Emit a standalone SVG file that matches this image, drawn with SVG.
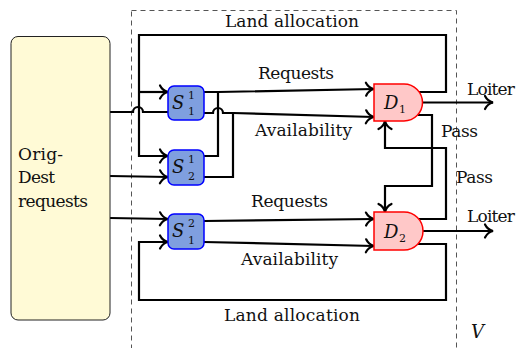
<svg xmlns="http://www.w3.org/2000/svg" width="525" height="348" viewBox="0 0 525 348">
<style>
text{font-family:'DejaVu Serif','Liberation Serif',Times,serif;fill:#111;}
.lbl{font-size:17px;}
.math{font-size:18px;font-style:italic;}
.idx{font-size:11px;}
.wire{fill:none;stroke:#000;stroke-width:2.2;stroke-linejoin:miter;}
.arr{marker-end:url(#arr);}
.sbox{fill:#7f9fdf;stroke:#0000ff;stroke-width:1.5;}
.gate{fill:#ffc8c8;stroke:#ff0000;stroke-width:1.5;}
</style>
<defs>
<marker id="arr" markerUnits="userSpaceOnUse" markerWidth="16" markerHeight="18" viewBox="-12 -9 14 18" refX="0" refY="0" orient="auto" overflow="visible">
<path d="M-8,-6.5 C-6,-2.5 -3,-0.7 0,0 C-3,0.7 -6,2.5 -8,6.5" fill="none" stroke="#000" stroke-width="2.2" stroke-linecap="round"/>
</marker>
</defs>
<rect x="0" y="0" width="525" height="348" fill="#fff"/>
<rect id="V-region" x="131.5" y="10.5" width="325" height="380" fill="none" stroke="#555" stroke-width="1" stroke-dasharray="5,4"/>
<text class="math" x="471" y="338">V</text>

<g id="connectors">
<path class="wire" d="M110,112 H133 A5,5 0 0 1 143,112 H168"/>
<path class="wire arr" d="M110,176 L168,177"/>
<path class="wire arr" d="M110,218 L168,219"/>
<path class="wire arr" d="M419,92 H446 V35 H139 V156 H168"/>
<path class="wire arr" d="M139,92 H168"/>
<path class="wire arr" d="M204,92 H218 L374,89"/>
<path class="wire" d="M204,156 H218 V92"/>
<path class="wire arr" d="M204,113 H213 A5,5 0 0 1 223,113 H233 L374,117"/>
<path class="wire" d="M204,177 H233 V113"/>
<path class="wire arr" d="M204,221 L374,219"/>
<path class="wire arr" d="M204,242 L374,246"/>
<path class="wire arr" d="M418,244 H446 V300 H139 V242 H168"/>
<path class="wire arr" d="M418,115 H432 V186 H385 V212"/>
<path class="wire arr" d="M418.7,219 H446 V148 H385 V121"/>
<path class="wire arr" d="M423,102.5 H493"/>
<path class="wire arr" d="M423,231 H493"/>
</g>

<g id="orig-dest">
<rect x="11" y="36.5" width="99" height="283.5" rx="7" fill="#fffad6" stroke="#222" stroke-width="1"/>
<text class="lbl" x="18" y="160" textLength="45">Orig-</text>
<text class="lbl" x="18" y="183" textLength="37">Dest</text>
<text class="lbl" x="18" y="207" textLength="70">requests</text>
</g>

<g id="S11">
<rect class="sbox" x="168" y="86" width="36" height="34" rx="6"/>
<text class="math" x="172" y="109">S</text>
<text class="idx" x="188" y="99">1</text>
<text class="idx" x="188" y="115">1</text>
</g>
<g id="S21">
<rect class="sbox" x="168" y="150" width="36" height="35" rx="6"/>
<text class="math" x="172" y="173">S</text>
<text class="idx" x="188" y="163">1</text>
<text class="idx" x="188" y="180">2</text>
</g>
<g id="S12">
<rect class="sbox" x="168" y="214" width="36" height="35" rx="6"/>
<text class="math" x="172" y="237">S</text>
<text class="idx" x="188" y="227">2</text>
<text class="idx" x="188" y="244">1</text>
</g>

<g id="D1">
<path class="gate" d="M374,84 H404 A18.5,18.5 0 0 1 404,121 H374 Z"/>
<text class="math" x="384" y="109">D</text>
<text class="idx" x="399" y="113">1</text>
</g>
<g id="D2">
<path class="gate" d="M374,212 H404 A19,19 0 0 1 404,250 H374 Z"/>
<text class="math" x="384" y="238">D</text>
<text class="idx" x="399" y="242">2</text>
</g>

<g id="labels">
<text class="lbl" x="225" y="27" textLength="134">Land allocation</text>
<text class="lbl" x="258" y="79" textLength="76">Requests</text>
<text class="lbl" x="255" y="136" textLength="97">Availability</text>
<text class="lbl" x="441" y="137" textLength="37">Pass</text>
<text class="lbl" x="456" y="183" textLength="37">Pass</text>
<text class="lbl" x="467" y="95" textLength="48">Loiter</text>
<text class="lbl" x="467" y="222" textLength="48">Loiter</text>
<text class="lbl" x="251" y="207" textLength="77">Requests</text>
<text class="lbl" x="241" y="265" textLength="97">Availability</text>
<text class="lbl" x="224" y="321" textLength="136">Land allocation</text>
</g>
</svg>
